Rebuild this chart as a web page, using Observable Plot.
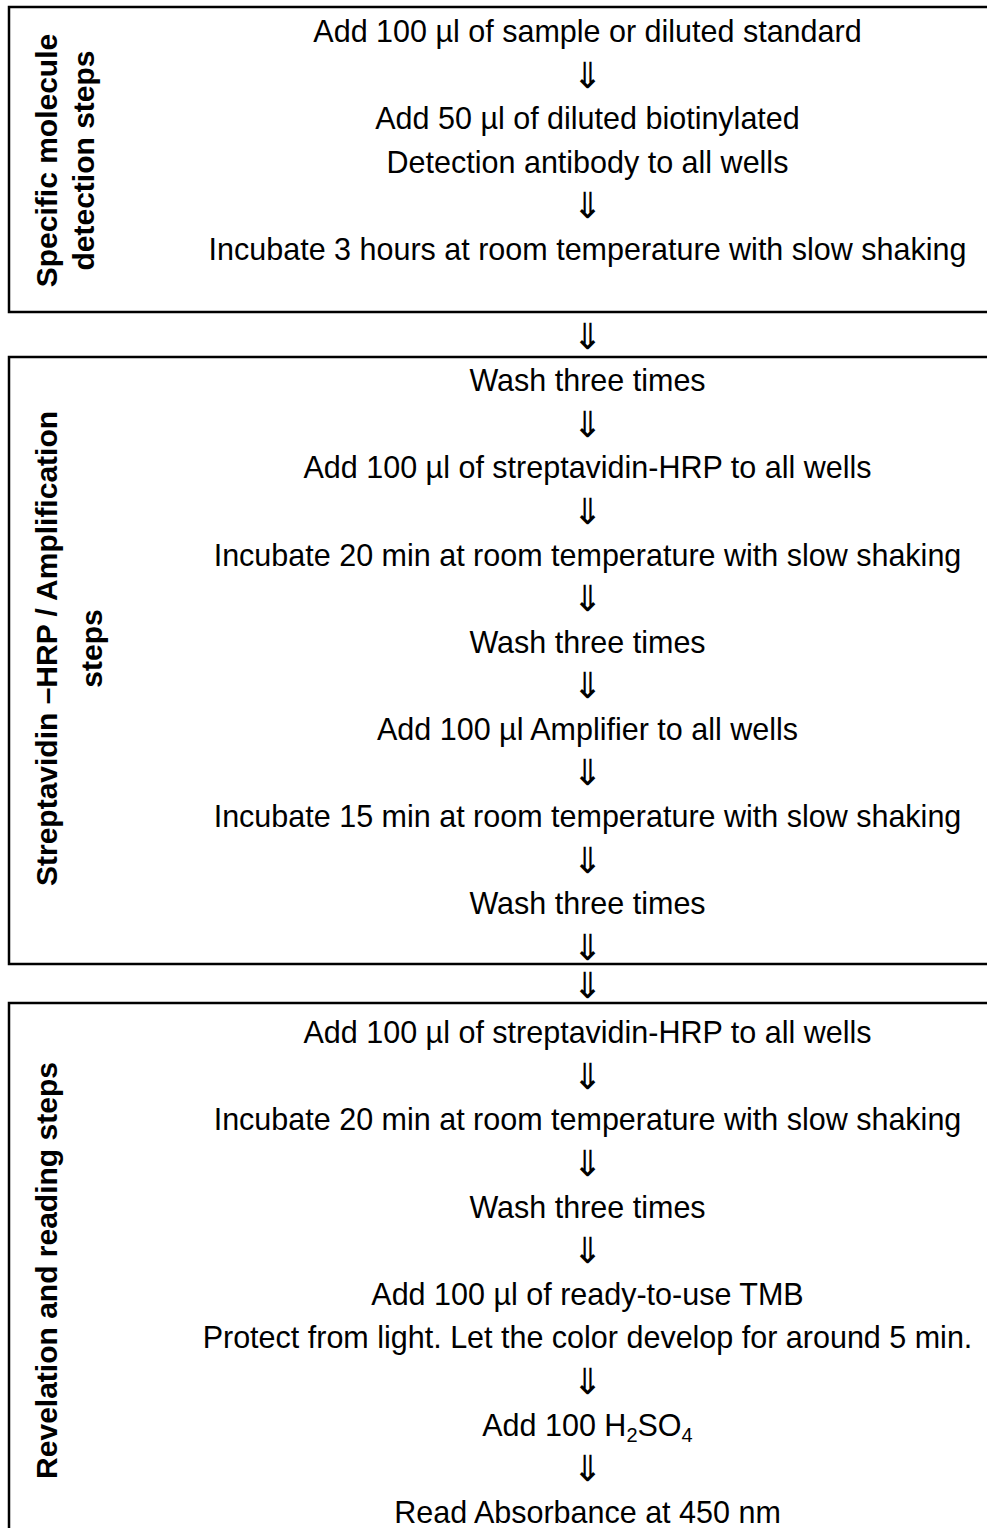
<!DOCTYPE html>
<html>
<head>
<meta charset="utf-8">
<script src="https://cdn.jsdelivr.net/npm/d3@7"></script>
<script src="https://cdn.jsdelivr.net/npm/@observablehq/plot@0.6"></script>
<style>
  html, body { margin: 0; padding: 0; background: #fff; }
  svg { display: block; }
</style>
</head>
<body>
<div id="chart"></div>
<script>
// ---- data ----
const stageLabels = [
  ["Specific molecule", "detection steps"],
  ["Streptavidin \u2013HRP / Amplification", "steps"],
  ["Revelation and reading steps"]
];
const specificSteps = [
  "Add 100 \u00b5l of sample or diluted standard",
  "\u21d3",
  "Add 50 \u00b5l of diluted biotinylated",
  "Detection antibody to all wells",
  "\u21d3",
  "Incubate 3 hours at room temperature with slow shaking"
];
const streptavidinSteps = [
  "Wash three times",
  "\u21d3",
  "Add 100 \u00b5l of streptavidin-HRP to all wells",
  "\u21d3",
  "Incubate 20 min at room temperature with slow shaking",
  "\u21d3",
  "Wash three times",
  "\u21d3",
  "Add 100 \u00b5l Amplifier to all wells",
  "\u21d3",
  "Incubate 15 min at room temperature with slow shaking",
  "\u21d3",
  "Wash three times",
  "\u21d3"
];
const revelationSteps = [
  "Add 100 \u00b5l of streptavidin-HRP to all wells",
  "\u21d3",
  "Incubate 20 min at room temperature with slow shaking",
  "\u21d3",
  "Wash three times",
  "\u21d3",
  "Add 100 \u00b5l of ready-to-use TMB",
  "Protect from light. Let the color develop for around 5 min.",
  "\u21d3",
  "Add 100 H2SO4",
  "\u21d3",
  "Read Absorbance at 450 nm"
];
const connector = "\u21d3";

// ---- layout ----
const W = 987, H = 1528;
const sections = [specificSteps, streptavidinSteps, revelationSteps];
const boxTop = [7, 357, 1003];
const boxBottom = [312, 964, 1560];
const firstLine = [32, 381, 1033];
const lineStep = 43.6;
const centerX = 587;
const labelX = [[47, 84], [47, 92], [47]];
const labelY = [160, 648, 1270];

const rows = [];
sections.forEach((steps, s) => {
  steps.forEach((t, i) => rows.push({x: centerX, y: firstLine[s] + i * lineStep, text: t}));
  if (s < sections.length - 1)
    rows.push({x: centerX, y: (boxBottom[s] + boxTop[s + 1]) / 2 + 2, text: connector});
});
const boxes = sections.map((_, s) => ({x1: 9, x2: W + 10, y1: boxTop[s], y2: boxBottom[s]}));
const labels = [];
stageLabels.forEach((lines, s) => lines.forEach((t, j) =>
  labels.push({x: labelX[s][j], y: labelY[s], text: t})));

const chart = Plot.plot({
  width: W,
  height: H,
  margin: 0,
  style: {background: "#fff", overflow: "visible"},
  x: {domain: [0, W], range: [0, W], axis: null},
  y: {domain: [0, H], range: [0, H], axis: null},
  marks: [
    Plot.rect(boxes, {x1: "x1", x2: "x2", y1: "y1", y2: "y2", fill: "none", stroke: "#000", strokeWidth: 2.5}),
    Plot.text(rows.filter(d => d.text !== connector), {
      x: "x", y: "y", text: "text", fontSize: 30.5, fill: "#000",
      fontFamily: "Liberation Sans, Arial, sans-serif"
    }),
    Plot.text(rows.filter(d => d.text === connector), {
      x: "x", y: "y", text: "text", fontSize: 36, fill: "#000",
      fontFamily: "DejaVu Sans, sans-serif"
    }),
    Plot.text(labels, {
      x: "x", y: "y", text: "text", rotate: -90, fontSize: 30, fontWeight: "bold", fill: "#000",
      fontFamily: "Liberation Sans, Arial, sans-serif"
    })
  ]
});

// subscripts for H2SO4
chart.querySelectorAll("text").forEach(t => {
  if (t.textContent === "Add 100 H2SO4") {
    t.textContent = "";
    const ns = "http://www.w3.org/2000/svg";
    const parts = [["Add 100 H", null], ["2", "sub"], ["SO", "up"], ["4", "sub"]];
    parts.forEach(([s, kind]) => {
      const ts = document.createElementNS(ns, "tspan");
      ts.textContent = s;
      if (kind === "sub") { ts.setAttribute("font-size", "20"); ts.setAttribute("dy", "6"); }
      if (kind === "up") { ts.setAttribute("dy", "-6"); }
      t.appendChild(ts);
    });
  }
});

document.getElementById("chart").appendChild(chart);
</script>
</body>
</html>
